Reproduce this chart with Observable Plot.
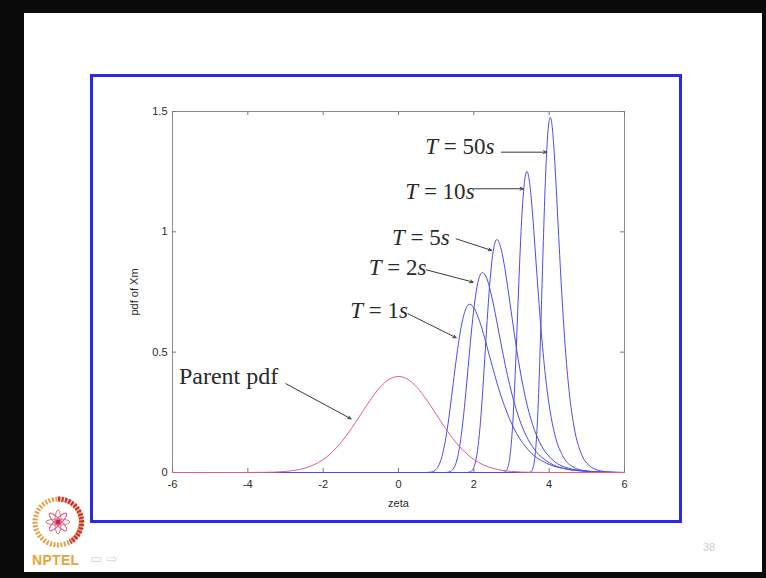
<!DOCTYPE html>
<html><head><meta charset="utf-8">
<script src="https://cdn.jsdelivr.net/npm/d3@7"></script>
<script src="https://cdn.jsdelivr.net/npm/@observablehq/plot@0.6"></script>
<style>
html,body{margin:0;padding:0;width:766px;height:578px;overflow:hidden;background:#0a0a0a;font-family:"Liberation Sans",Arial,sans-serif;}
#slide{position:absolute;left:24px;top:13px;width:738px;height:559px;background:#fff;}
#border{position:absolute;left:90px;top:74px;width:586px;height:443px;border:3px solid #2a2ae4;}
#chart{position:absolute;left:92px;top:75px;}
#logo{position:absolute;left:30px;top:494px;}
#nptel{position:absolute;left:32px;top:552px;font:bold 14px "Liberation Sans",Arial,sans-serif;color:#e8a43a;letter-spacing:0.3px;}
#nav{position:absolute;left:90px;top:551px;font:13px "DejaVu Sans",sans-serif;color:#cfd6e6;}
#pg{position:absolute;left:703px;top:541px;font:11px "Liberation Sans",Arial,sans-serif;color:#d0d0d0;}
</style></head>
<body>
<div id="slide"></div>
<div id="border"></div>
<div id="chart"></div>
<svg id="logo" width="60" height="60" viewBox="0 0 60 60">
  <circle cx="28" cy="28" r="23" fill="none" stroke="#e2a24a" stroke-width="5" stroke-dasharray="2 1.5"/>
  <path d="M28 5 A23 23 0 0 1 40 48" fill="none" stroke="#c8283e" stroke-width="5" stroke-dasharray="2 1.5"/>
  <g stroke="#d86a8a" stroke-width="1" fill="none">
    <ellipse cx="28" cy="28" rx="3" ry="12"/>
    <ellipse cx="28" cy="28" rx="3" ry="12" transform="rotate(45 28 28)"/>
    <ellipse cx="28" cy="28" rx="3" ry="12" transform="rotate(90 28 28)"/>
    <ellipse cx="28" cy="28" rx="3" ry="12" transform="rotate(135 28 28)"/>
  </g>
  <circle cx="28" cy="28" r="2.5" fill="#d02050"/>
</svg>
<div id="nptel">NPTEL</div>
<div id="nav">▭ ⇨</div>
<div id="pg">38</div>
<script>
// ---- data ----
const xTicks = [-6, -4, -2, 0, 2, 4, 6];
const yTicks = [0, 0.5, 1, 1.5];

const parentPdf = [[-6,0],[-5,0],[-4,0.0001],[-3.5,0.0009],[-3,0.0044],[-2.75,0.0091],[-2.5,0.0175],[-2.25,0.0317],[-2,0.054],[-1.75,0.0863],[-1.5,0.1295],[-1.25,0.1826],[-1,0.242],[-0.75,0.3011],[-0.5,0.3521],[-0.25,0.3867],[0,0.3989],[0.25,0.3867],[0.5,0.3521],[0.75,0.3011],[1,0.242],[1.25,0.1826],[1.5,0.1295],[1.75,0.0863],[2,0.054],[2.25,0.0317],[2.5,0.0175],[2.75,0.0091],[3,0.0044],[3.5,0.0009],[4,0.0001],[5,0],[6,0]];

const pdfT1 = [[-6,0],[0.7,0],[0.878,0.002],[0.97,0.009],[1.062,0.027],[1.154,0.067],[1.246,0.134],[1.338,0.228],[1.43,0.341],[1.522,0.457],[1.614,0.56],[1.706,0.637],[1.798,0.684],[1.89,0.699],[2.022,0.679],[2.153,0.628],[2.285,0.56],[2.416,0.484],[2.679,0.339],[2.942,0.225],[3.205,0.144],[3.468,0.09],[3.994,0.034],[4.52,0.013],[5.046,0.005],[5.6,0.001],[6,0]];

const pdfT2 = [[-6,0],[1.25,0],[1.35,0.003],[1.43,0.01],[1.51,0.032],[1.59,0.079],[1.67,0.159],[1.75,0.271],[1.83,0.405],[1.91,0.543],[1.99,0.666],[2.07,0.758],[2.15,0.814],[2.23,0.831],[2.341,0.808],[2.451,0.747],[2.562,0.666],[2.673,0.575],[2.894,0.403],[3.115,0.267],[3.336,0.171],[3.558,0.107],[4.0,0.041],[4.443,0.015],[4.885,0.006],[5.5,0.001],[6,0]];

const pdfT5 = [[-6,0],[1.8,0],[1.906,0.003],[1.97,0.012],[2.034,0.038],[2.098,0.092],[2.162,0.185],[2.226,0.316],[2.29,0.472],[2.354,0.632],[2.418,0.775],[2.482,0.882],[2.546,0.947],[2.61,0.968],[2.705,0.94],[2.8,0.87],[2.895,0.775],[2.99,0.67],[3.18,0.469],[3.37,0.311],[3.56,0.199],[3.75,0.125],[4.13,0.047],[4.51,0.018],[4.89,0.007],[5.5,0.001],[6,0]];

const pdfT10 = [[-6,0],[2.75,0],[2.838,0.004],[2.89,0.016],[2.942,0.049],[2.994,0.119],[3.046,0.239],[3.098,0.408],[3.15,0.61],[3.202,0.817],[3.254,1.002],[3.306,1.141],[3.358,1.224],[3.41,1.251],[3.471,1.215],[3.533,1.124],[3.594,1.001],[3.655,0.866],[3.778,0.607],[3.9,0.402],[4.023,0.257],[4.145,0.161],[4.39,0.061],[4.635,0.023],[4.88,0.009],[5.3,0.002],[5.7,0],[6,0]];

const pdfT50 = [[-6,0],[3.45,0],[3.524,0.004],[3.57,0.018],[3.616,0.057],[3.662,0.14],[3.708,0.282],[3.754,0.481],[3.8,0.719],[3.846,0.964],[3.892,1.181],[3.938,1.345],[3.984,1.444],[4.03,1.475],[4.083,1.433],[4.135,1.326],[4.188,1.181],[4.24,1.021],[4.345,0.716],[4.45,0.474],[4.555,0.303],[4.66,0.19],[4.87,0.072],[5.08,0.027],[5.29,0.01],[5.6,0.002],[6,0]];

// labels: text, anchor x, y
const labelText = ["T = 50s", "T = 10s", "T = 5s", "T = 2s", "T = 1s"];
const labelX = [2.55, 2.02, 1.36, 0.74, 0.25];
const labelY = [1.352, 1.165, 0.978, 0.853, 0.673];
// arrows: start (x1,y1) -> end (x2,y2)
const arrowX1 = [2.73, 2.02, 1.53, 0.74, 0.25, -2.99];
const arrowY1 = [1.331, 1.179, 0.971, 0.842, 0.66, 0.369];
const arrowX2 = [3.93, 3.31, 2.47, 1.98, 1.53, -1.26];
const arrowY2 = [1.331, 1.179, 0.923, 0.791, 0.56, 0.223];
const parentLabel = {text: "Parent pdf", x: -5.83, y: 0.399};

// ---- chart ----
const blue = "#4c4cec";
const red = "#e2607e";
const labels = labelText.map((t, i) => ({t, x: labelX[i], y: labelY[i]}));
const arrows = arrowX1.map((x1, i) => ({x1, y1: arrowY1[i], x2: arrowX2[i], y2: arrowY2[i]}));
const blueSeries = [pdfT1, pdfT2, pdfT5, pdfT10, pdfT50];

const W = 590, H = 447, mL = 80, mR = 58, mT = 36, mB = 50;
const innerW = W - mL - mR, innerH = H - mT - mB;

const chart = Plot.plot({
  width: W, height: H,
  marginLeft: mL, marginRight: mR, marginTop: mT, marginBottom: mB,
  style: {background: "transparent", fontFamily: "'Liberation Sans', Arial, sans-serif", fontSize: "11px", color: "#2a2a2a", overflow: "visible"},
  x: {domain: [-6, 6]},
  y: {domain: [0, 1.5]},
  marks: [
    Plot.frame({stroke: "#8c8c8c", strokeWidth: 1}),
    Plot.ruleX(xTicks, {x: d => d, insetTop: innerH - 4, stroke: "#777"}),
    Plot.ruleX(xTicks, {x: d => d, insetBottom: innerH - 4, stroke: "#777"}),
    Plot.ruleY(yTicks, {y: d => d, insetRight: innerW - 4, stroke: "#777"}),
    Plot.ruleY(yTicks, {y: d => d, insetLeft: innerW - 4, stroke: "#777"}),
    Plot.axisX({ticks: xTicks, tickSize: 0, tickPadding: 8, tickFormat: d => String(d), label: "zeta", labelAnchor: "center", labelOffset: 34, labelArrow: "none"}),
    Plot.axisY({ticks: yTicks, tickSize: 0, tickPadding: 5, tickFormat: d => String(d), label: "pdf of Xm", labelAnchor: "center", labelOffset: 42, labelArrow: "none"}),
    ...blueSeries.map(s => Plot.line(s, {x: d => d[0], y: d => d[1], stroke: blue, strokeWidth: 1, curve: "monotone-x"})),
    Plot.line(parentPdf, {x: d => d[0], y: d => d[1], stroke: red, strokeWidth: 1, curve: "monotone-x"}),
    Plot.arrow(arrows, {x1: "x1", y1: "y1", x2: "x2", y2: "y2", stroke: "#3a3a3a", strokeWidth: 1, headLength: 5, headAngle: 50}),
    Plot.text(labels, {x: "x", y: "y", text: "t", textAnchor: "end", fontFamily: "'Liberation Serif', 'Times New Roman', serif", fontSize: 23, fill: "#2a2a2a"}),
    Plot.text([parentLabel], {x: "x", y: "y", text: "text", textAnchor: "start", fontFamily: "'Liberation Serif', 'Times New Roman', serif", fontSize: 24, fill: "#2a2a2a"})
  ]
});
document.getElementById("chart").appendChild(chart);

// italicize T and s in the labels
chart.querySelectorAll("text").forEach(el => {
  const m = /^T = (\d+)s$/.exec(el.textContent);
  if (m) {
    el.textContent = "";
    const ns = "http://www.w3.org/2000/svg";
    const a = document.createElementNS(ns, "tspan"); a.setAttribute("font-style", "italic"); a.textContent = "T";
    const b = document.createElementNS(ns, "tspan"); b.textContent = " = " + m[1];
    const c = document.createElementNS(ns, "tspan"); c.setAttribute("font-style", "italic"); c.textContent = "s";
    el.append(a, b, c);
  }
});
</script>
</body></html>
